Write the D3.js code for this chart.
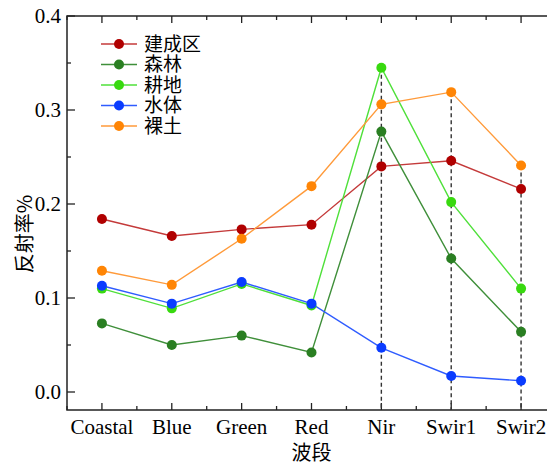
<!DOCTYPE html>
<html lang="zh">
<head>
<meta charset="UTF-8">
<title>反射率</title>
<style>
  body { margin: 0; background: #fff; }
  svg { display: block; }
</style>
</head>
<body>
<svg width="547" height="465"></svg>
<script src="https://d3js.org/d3.v7.min.js"></script>
<script>
const bands = ["Coastal", "Blue", "Green", "Red", "Nir", "Swir1", "Swir2"];
const yTicks = [0.0, 0.1, 0.2, 0.3, 0.4];

const builtUp  = [0.184, 0.166, 0.173, 0.178, 0.240, 0.246, 0.216];
const forest   = [0.073, 0.050, 0.060, 0.042, 0.277, 0.142, 0.064];
const cropland = [0.110, 0.089, 0.115, 0.092, 0.345, 0.202, 0.110];
const water    = [0.113, 0.094, 0.117, 0.094, 0.047, 0.017, 0.012];
const bareSoil = [0.129, 0.114, 0.163, 0.219, 0.306, 0.319, 0.241];

const series = [
  { name: "建成区", values: builtUp,  dot: "#b00000", line: "#c43a3a" },
  { name: "森林",   values: forest,   dot: "#2a7f22", line: "#3f8f3a" },
  { name: "耕地",   values: cropland, dot: "#38d90f", line: "#4fe03a" },
  { name: "水体",   values: water,    dot: "#0a3cff", line: "#2f5cff" },
  { name: "裸土",   values: bareSoil, dot: "#ff8505", line: "#ff9a3a" }
];

// bands with a dashed guide line
const guideBands = ["Nir", "Swir1", "Swir2"];

const svg = d3.select("svg");
const pLeft = 67, pTop = 16, pBottom = 410, pRight = 556;

const x = d3.scaleLinear().domain([-0.5, bands.length - 0.5]).range([pLeft, pRight]);
const y = d3.scaleLinear().domain([0, 0.4]).range([392, pTop]);

const serif = "'Liberation Serif', 'Times New Roman', serif";
const cjk = "'Noto Sans CJK SC', sans-serif";

// frame
svg.append("path")
  .attr("d", `M${pRight},${pTop}H${pLeft}V${pBottom}H${pRight}`)
  .attr("fill", "none").attr("stroke", "#222").attr("stroke-width", 1.5);

// ticks (inward)
const majX = d3.range(bands.length);
const minX = d3.range(bands.length).map(d => d + 0.5).concat([-0.5]);
const tk = svg.append("g").attr("stroke", "#222").attr("stroke-width", 1.3);
majX.forEach(i => {
  tk.append("line").attr("x1", x(i)).attr("x2", x(i)).attr("y1", pBottom).attr("y2", pBottom - 7);
  tk.append("line").attr("x1", x(i)).attr("x2", x(i)).attr("y1", pTop).attr("y2", pTop + 7);
});
minX.forEach(v => {
  tk.append("line").attr("x1", x(v)).attr("x2", x(v)).attr("y1", pBottom).attr("y2", pBottom - 4);
  tk.append("line").attr("x1", x(v)).attr("x2", x(v)).attr("y1", pTop).attr("y2", pTop + 4);
});
yTicks.forEach(v => {
  tk.append("line").attr("x1", pLeft).attr("x2", pLeft + 8).attr("y1", y(v)).attr("y2", y(v));
});
yTicks.slice(0, -1).forEach(v => {
  tk.append("line").attr("x1", pLeft).attr("x2", pLeft + 4).attr("y1", y(v + 0.05)).attr("y2", y(v + 0.05));
});

// tick labels
svg.append("g").selectAll("text").data(yTicks).join("text")
  .attr("x", pLeft - 6).attr("y", d => y(d)).attr("dy", "0.35em")
  .attr("text-anchor", "end")
  .style("font-family", serif).style("font-size", "21px")
  .text(d => d.toFixed(1));

svg.append("g").selectAll("text").data(bands).join("text")
  .attr("x", (d, i) => x(i)).attr("y", 434)
  .attr("text-anchor", "middle")
  .style("font-family", serif).style("font-size", "21px")
  .text(d => d);

// axis titles
svg.append("text").attr("x", x(3)).attr("y", 460).attr("text-anchor", "middle")
  .style("font-family", cjk).style("font-size", "20px").text("波段");
svg.append("text").attr("transform", `translate(32,234) rotate(-90)`).attr("text-anchor", "middle")
  .style("font-family", cjk).style("font-size", "20px").text("反射率%");

// dashed guides at Nir / Swir bands, from top point down to axis
guideBands.forEach(b => {
  const i = bands.indexOf(b);
  const maxV = d3.max(series, s => s.values[i]);
  svg.append("line")
    .attr("x1", x(i)).attr("x2", x(i)).attr("y1", y(maxV)).attr("y2", pBottom)
    .attr("stroke", "#333").attr("stroke-width", 1.4).attr("stroke-dasharray", "4,3");
});

// lines + dots
const line = d3.line().x((d, i) => x(i)).y(d => y(d));
series.forEach(s => {
  svg.append("path").datum(s.values).attr("d", line)
    .attr("fill", "none").attr("stroke", s.line).attr("stroke-width", 1.4);
});
series.forEach(s => {
  svg.append("g").selectAll("circle").data(s.values).join("circle")
    .attr("cx", (d, i) => x(i)).attr("cy", d => y(d)).attr("r", 5)
    .attr("fill", s.dot);
});

// legend
const lg = svg.append("g");
series.forEach((s, k) => {
  const ly = 44 + k * 20.5;
  lg.append("line").attr("x1", 101).attr("x2", 137).attr("y1", ly).attr("y2", ly)
    .attr("stroke", s.line).attr("stroke-width", 1.4);
  lg.append("circle").attr("cx", 119).attr("cy", ly).attr("r", 5).attr("fill", s.dot);
  lg.append("text").attr("x", 144).attr("y", ly).attr("dy", "0.36em")
    .style("font-family", cjk).style("font-size", "19px").text(s.name);
});
</script>
</body>
</html>
